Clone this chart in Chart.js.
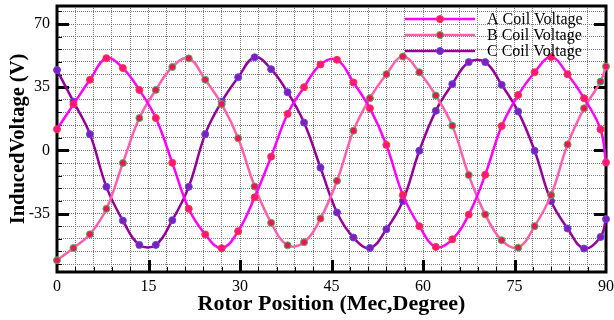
<!DOCTYPE html>
<html>
<head>
<meta charset="utf-8">
<script src="https://cdn.jsdelivr.net/npm/chart.js@4.4.1/dist/chart.umd.min.js"></script>
<style>
  html, body { margin: 0; padding: 0; background: #fff; }
</style>
</head>
<body>
<canvas id="chart" width="614" height="320"></canvas>
<script>
// rotor position (mechanical degrees) of each sample
const positions = [0, 2.7, 5.4, 8.1, 10.8, 13.5, 16.2, 18.9, 21.6, 24.3, 27, 29.7, 32.4, 35.1,
  37.8, 40.5, 43.2, 45.9, 48.6, 51.3, 54, 56.7, 59.4, 62.1, 64.8, 67.5, 70.2, 72.9, 75.6,
  78.3, 81, 83.7, 86.4, 89.1, 90];

// induced voltage (V) per coil
const coilA = [11.7, 25.5, 39.1, 51.1, 45.6, 33.5, 17.9, -6.9, -32.4, -46.6, -54.2, -44.8, -26,
  -3.5, 20.2, 35, 47.6, 50.2, 37.6, 23.3, 3, -24.8, -42, -53.5, -49.3, -35.6, -13.5, 13.5,
  30.7, 43.3, 51.7, 42.2, 28.9, 11.7, -6.7];
const coilB = [-60.9, -54.1, -46.5, -32.4, -7, 17.9, 33.5, 46.2, 51, 39.1, 25.6, 6.7, -20,
  -40.1, -52.6, -50.9, -37.8, -16.9, 10.9, 28.9, 42.2, 52, 43.3, 30.4, 13.7, -13.7, -35.5,
  -49.8, -53.9, -42, -24.8, 3.3, 23.3, 38.1, 46.5];
const coilC = [44.5, 27, 9, -20.2, -38.9, -52.4, -52.4, -38.7, -20.2, 9, 27, 40.5, 51.6, 45,
  32.2, 15.4, -9.6, -34.4, -48.3, -54.1, -43.7, -28, -0.2, 21.9, 36.7, 48.9, 48.9, 36.3,
  21.5, -0.2, -28.1, -43.3, -54.4, -48, -38.1];

const seriesNames = ['A Coil Voltage', 'B Coil Voltage', 'C Coil Voltage'];

// axis ticks
const xMajorStep = 15, xMinorStep = 3;
const yMajorStep = 35, yMinorStep = 7;
const xRange = [0, 90];
const yRange = [-67.4, 80];

const SERIF = "'Liberation Serif', 'Times New Roman', serif";

const toPoints = (ys) => positions.map((x, i) => ({ x, y: ys[i] }));

const styles = [
  { line: '#ff00ff', fill: '#ff1487', edge: '#ff3a2a' },
  { line: '#ff5fae', fill: '#ee1166', edge: '#3fc43f' },
  { line: '#960096', fill: '#8a1ab0', edge: '#4c4cff' },
];

const datasets = [coilA, coilB, coilC].map((ys, i) => ({
  label: seriesNames[i],
  data: toPoints(ys),
  borderColor: styles[i].line,
  borderWidth: 2.5,
  backgroundColor: styles[i].fill,
  pointBackgroundColor: styles[i].fill,
  pointBorderColor: styles[i].edge,
  pointBorderWidth: 1,
  pointRadius: 3.5,
  tension: 0.4,
  clip: false,
}));

const isMult = (v, step) => Math.abs(v / step - Math.round(v / step)) < 1e-6;

// 枠線と内向き目盛り(データより先に描く)
const framePlugin = {
  id: 'frame',
  beforeDatasetsDraw(chart) {
    const { ctx, chartArea: a, scales: { x, y } } = chart;
    ctx.save();
    ctx.strokeStyle = '#000';
    for (const t of x.ticks) {
      if (t.value <= xRange[0] || t.value >= xRange[1]) continue;
      const px = Math.round(x.getPixelForValue(t.value)) + 0.5;
      const major = isMult(t.value, xMajorStep);
      ctx.lineWidth = major ? 3 : 1;
      ctx.beginPath();
      ctx.moveTo(px, a.bottom);
      ctx.lineTo(px, a.bottom - (major ? 12 : 5));
      ctx.stroke();
    }
    for (const t of y.ticks) {
      const py = Math.round(y.getPixelForValue(t.value)) + 0.5;
      const major = isMult(t.value, yMajorStep);
      ctx.lineWidth = major ? 3 : 1;
      ctx.beginPath();
      ctx.moveTo(a.left, py);
      ctx.lineTo(a.left + (major ? 12 : 5), py);
      ctx.stroke();
      if (major) {
        ctx.beginPath();
        ctx.moveTo(a.right, py);
        ctx.lineTo(a.right - 12, py);
        ctx.stroke();
      }
    }
    ctx.lineWidth = 3;
    ctx.strokeRect(a.left, a.top, a.right - a.left, a.bottom - a.top);
    ctx.restore();
  },
};

// 線+マーカー型の凡例(プロット内右上)
const legendPlugin = {
  id: 'lineLegend',
  afterDatasetsDraw(chart) {
    const { ctx } = chart;
    ctx.save();
    chart.data.datasets.forEach((ds, i) => {
      const cy = 19 + i * 16;
      ctx.strokeStyle = ds.borderColor;
      ctx.lineWidth = 2.5;
      ctx.beginPath();
      ctx.moveTo(405, cy);
      ctx.lineTo(475, cy);
      ctx.stroke();
      ctx.beginPath();
      ctx.arc(440, cy, 3.5, 0, Math.PI * 2);
      ctx.fillStyle = ds.pointBackgroundColor;
      ctx.fill();
      ctx.lineWidth = 1;
      ctx.strokeStyle = ds.pointBorderColor;
      ctx.stroke();
      ctx.fillStyle = '#000';
      ctx.font = `16px ${SERIF}`;
      ctx.textBaseline = 'middle';
      ctx.textAlign = 'left';
      ctx.fillText(ds.label, 487, cy + 1);
    });
    ctx.restore();
  },
};

const gridDots = { color: '#7a7a7a', lineWidth: 1, drawTicks: false };

new Chart(document.getElementById('chart'), {
  type: 'line',
  data: { datasets },
  options: {
    responsive: false,
    animation: false,
    devicePixelRatio: 1,
    layout: { padding: { left: 0, right: 8, top: 6, bottom: 0 } },
    plugins: {
      legend: { display: false },
      tooltip: { enabled: false },
    },
    scales: {
      x: {
        type: 'linear',
        min: xRange[0],
        max: xRange[1],
        afterFit(s) { s.height = 48; s.paddingLeft = 0; s.paddingRight = 0; },
        grid: gridDots,
        border: { display: false, dash: [1, 1] },
        ticks: {
          stepSize: xMinorStep,
          autoSkip: false,
          maxRotation: 0,
          includeBounds: false,
          padding: 5,
          color: '#000',
          font: { family: SERIF, size: 16 },
          callback: (v) => (isMult(v, xMajorStep) ? String(Math.round(v)) : ''),
        },
        title: {
          display: true,
          text: 'Rotor Position (Mec,Degree)',
          color: '#000',
          font: { family: SERIF, size: 22, weight: 'bold' },
          padding: { top: 0, bottom: 2 },
        },
      },
      y: {
        type: 'linear',
        min: yRange[0],
        max: yRange[1],
        afterFit(s) { s.width = 57; s.paddingTop = 0; s.paddingBottom = 0; },
        grid: gridDots,
        border: { display: false, dash: [1, 1] },
        ticks: {
          stepSize: yMinorStep,
          autoSkip: false,
          includeBounds: false,
          padding: 7,
          color: '#000',
          font: { family: SERIF, size: 16 },
          callback: (v) => (isMult(v, yMajorStep) ? String(Math.round(v)) : ''),
        },
        title: {
          display: true,
          text: 'InducedVoltage (V)',
          color: '#000',
          font: { family: SERIF, size: 20.5, weight: 'bold' },
          padding: { top: 6, bottom: 0 },
        },
      },
    },
  },
  plugins: [framePlugin, legendPlugin],
});
</script>
</body>
</html>
